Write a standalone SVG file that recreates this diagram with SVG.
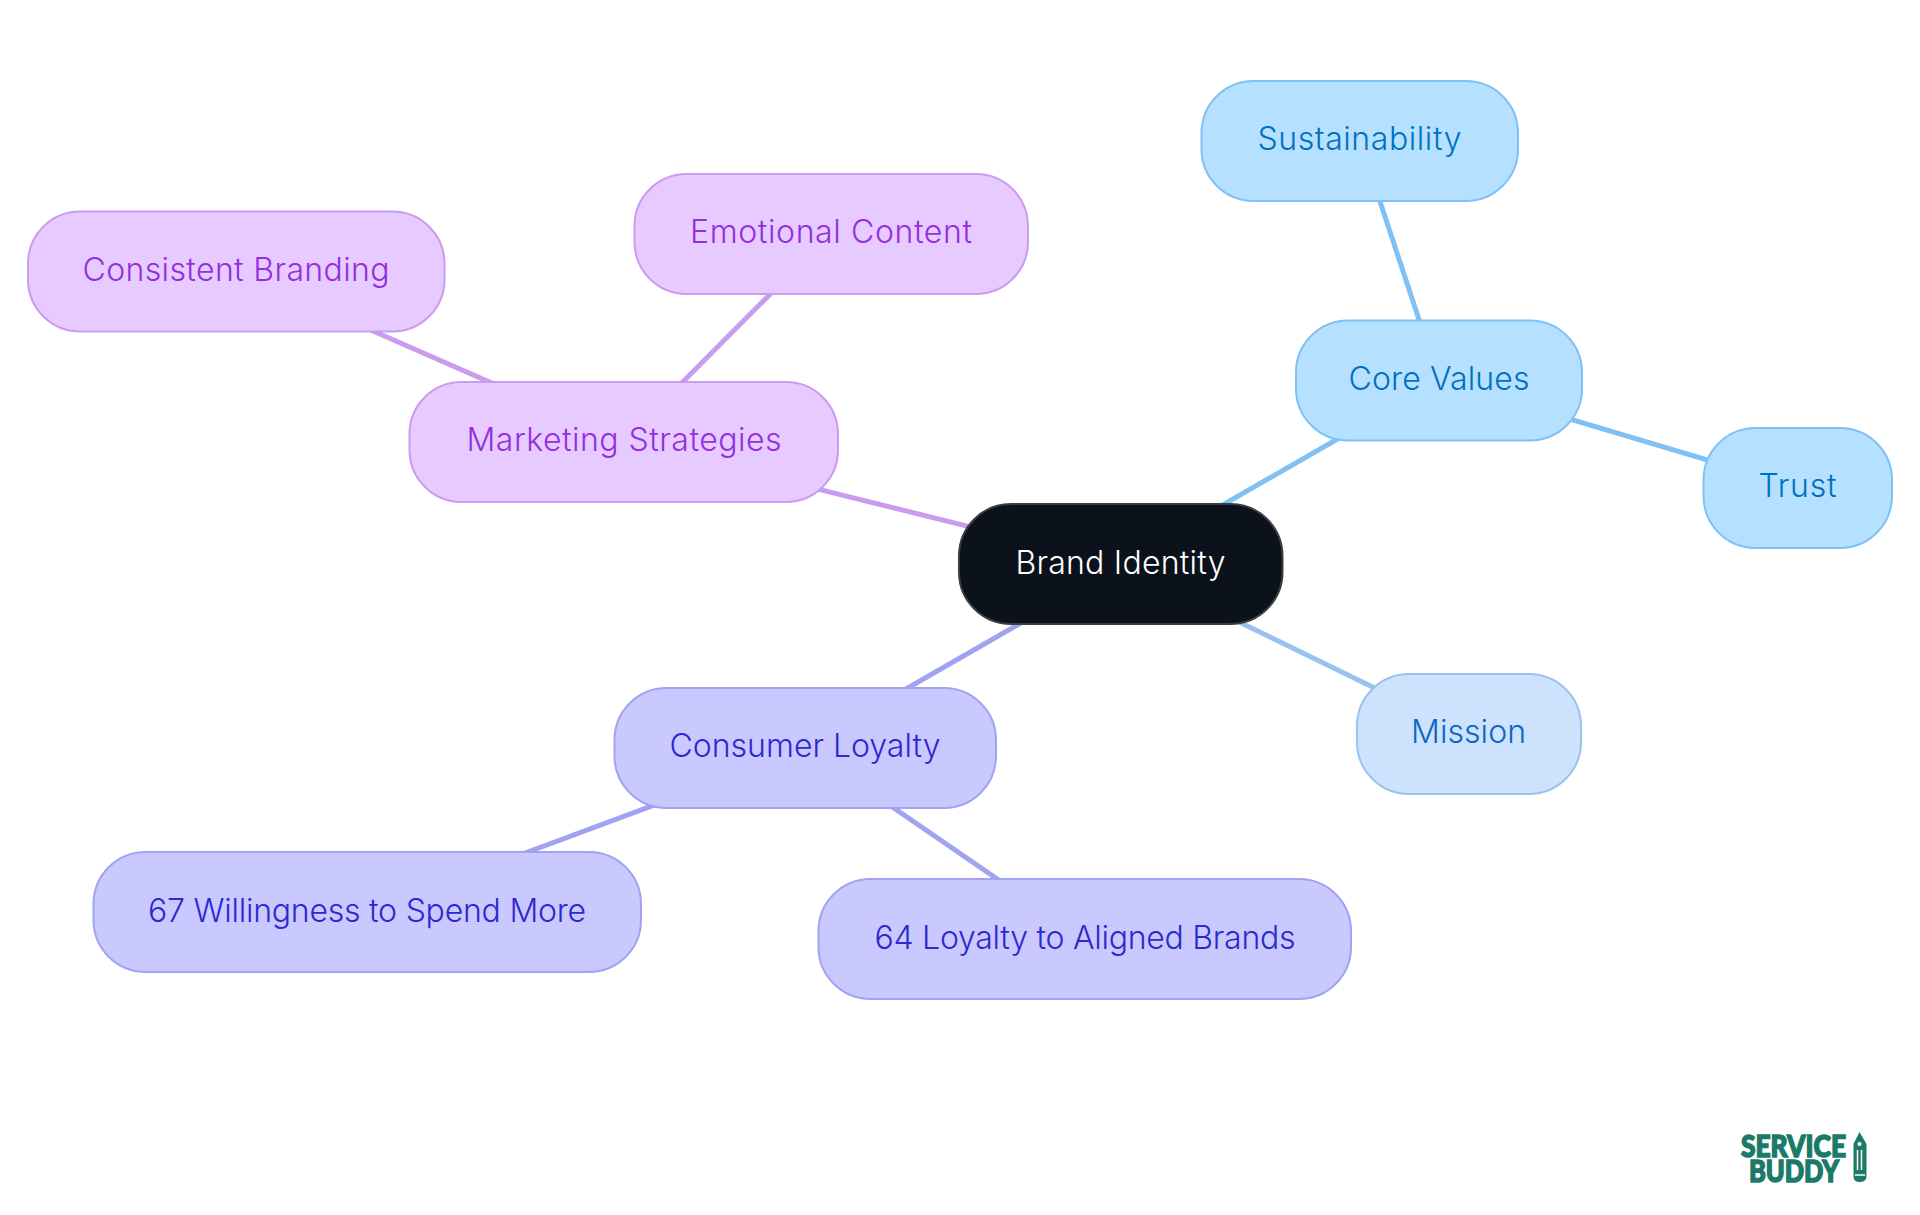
<svg xmlns="http://www.w3.org/2000/svg" width="1920" height="1215" viewBox="0 0 1920 1215">
<style>
text{font-family:"Inter","Noto Sans","Liberation Sans",sans-serif;font-size:32px;font-weight:350;text-anchor:middle;dominant-baseline:central}
.n{stroke-width:2}
.blue rect{fill:#b6e0ff;stroke:#7fc1f5}.blue text{fill:#0070c0}
.mis rect{fill:#cde2fc;stroke:#98c2f0}.mis text{fill:#0b66c8}
.pur rect{fill:#e7caff;stroke:#c99cee}.pur text{fill:#9130dd}
.ind rect{fill:#c9c9ff;stroke:#a0a3f2}.ind text{fill:#2d28cf}
.c line{stroke-width:5;fill:none}
#logo text{font-family:"Lato","DejaVu Sans",sans-serif;font-weight:900;font-size:30px;fill:#1b7a68;stroke:#1b7a68;stroke-width:1.500}
</style>
<rect width="1920" height="1215" fill="#fff"/>
<g id="connectors" class="c">
<line x1="1127" y1="560" x2="1440" y2="380" stroke="#7fc1f5"/>
<line x1="1120" y1="564" x2="1469" y2="734" stroke="#98c2f0"/>
<line x1="1120" y1="564" x2="624" y2="441" stroke="#c99cee"/>
<line x1="1120" y1="566" x2="805" y2="747" stroke="#a0a3f2"/>
<line x1="1439" y1="380" x2="1360" y2="141" stroke="#7fc1f5"/>
<line x1="1439" y1="380" x2="1798" y2="487" stroke="#7fc1f5"/>
<line x1="624" y1="441" x2="831" y2="233" stroke="#c99cee"/>
<line x1="624" y1="441" x2="236" y2="271" stroke="#c99cee"/>
<line x1="805" y1="749" x2="369" y2="911" stroke="#a0a3f2"/>
<line x1="805" y1="747" x2="1083" y2="938" stroke="#a0a3f2"/>
</g>
<g id="node-brand"><rect x="959" y="504" width="323.500" height="120" rx="52" fill="#0b121b" stroke="#3a3e44" stroke-width="2"/><text x="1120.500" y="562" fill="#fff" textLength="210">Brand Identity</text></g>
<g id="node-core" class="blue"><rect class="n" x="1296" y="320.500" width="286" height="120" rx="52"/><text x="1439" y="378" textLength="181">Core Values</text></g>
<g id="node-trust" class="blue"><rect class="n" x="1703.500" y="428" width="188.500" height="120" rx="52"/><text x="1797.500" y="485" textLength="78">Trust</text></g>
<g id="node-sust" class="blue"><rect class="n" x="1201.500" y="81" width="316.500" height="120" rx="52"/><text x="1359.500" y="138" textLength="204">Sustainability</text></g>
<g id="node-mission" class="mis"><rect class="n" x="1357" y="674" width="224" height="120" rx="52"/><text x="1468.500" y="731" textLength="115">Mission</text></g>
<g id="node-marketing" class="pur"><rect class="n" x="409.500" y="382" width="428.500" height="120" rx="52"/><text x="624" y="439" textLength="315">Marketing Strategies</text></g>
<g id="node-emotional" class="pur"><rect class="n" x="634.500" y="174" width="393.500" height="120" rx="52"/><text x="831" y="231" textLength="282">Emotional Content</text></g>
<g id="node-consistent" class="pur"><rect class="n" x="28" y="211.500" width="416.500" height="120" rx="52"/><text x="236" y="269" textLength="307">Consistent Branding</text></g>
<g id="node-consumer" class="ind"><rect class="n" x="614.500" y="688" width="381.500" height="120" rx="52"/><text x="805" y="745" textLength="271">Consumer Loyalty</text></g>
<g id="node-67" class="ind"><rect class="n" x="93.500" y="852" width="547.500" height="120" rx="52"/><text x="367" y="910" textLength="438">67 Willingness to Spend More</text></g>
<g id="node-64" class="ind"><rect class="n" x="818.500" y="879" width="532.500" height="120" rx="52"/><text x="1085" y="937" textLength="421">64 Loyalty to Aligned Brands</text></g>
<g id="logo">
<text><tspan x="1793.500" y="1145" textLength="105" lengthAdjust="spacingAndGlyphs">SERVICE</tspan><tspan x="1794" y="1170" textLength="90" lengthAdjust="spacingAndGlyphs">BUDDY</tspan></text>
<path d="M1859.500 1132 L1866.500 1144 V1176 Q1866.500 1182 1859.500 1182 Q1853.500 1182 1853.500 1176 V1144 Z" fill="#1b7a68"/>
<path d="M1857.500 1150 V1170 M1861.500 1150 V1170 M1855 1175 H1865" stroke="#fff" stroke-width="1.500" fill="none"/>
<circle cx="1859.500" cy="1144" r="2" fill="#fff"/>
</g>
</svg>
